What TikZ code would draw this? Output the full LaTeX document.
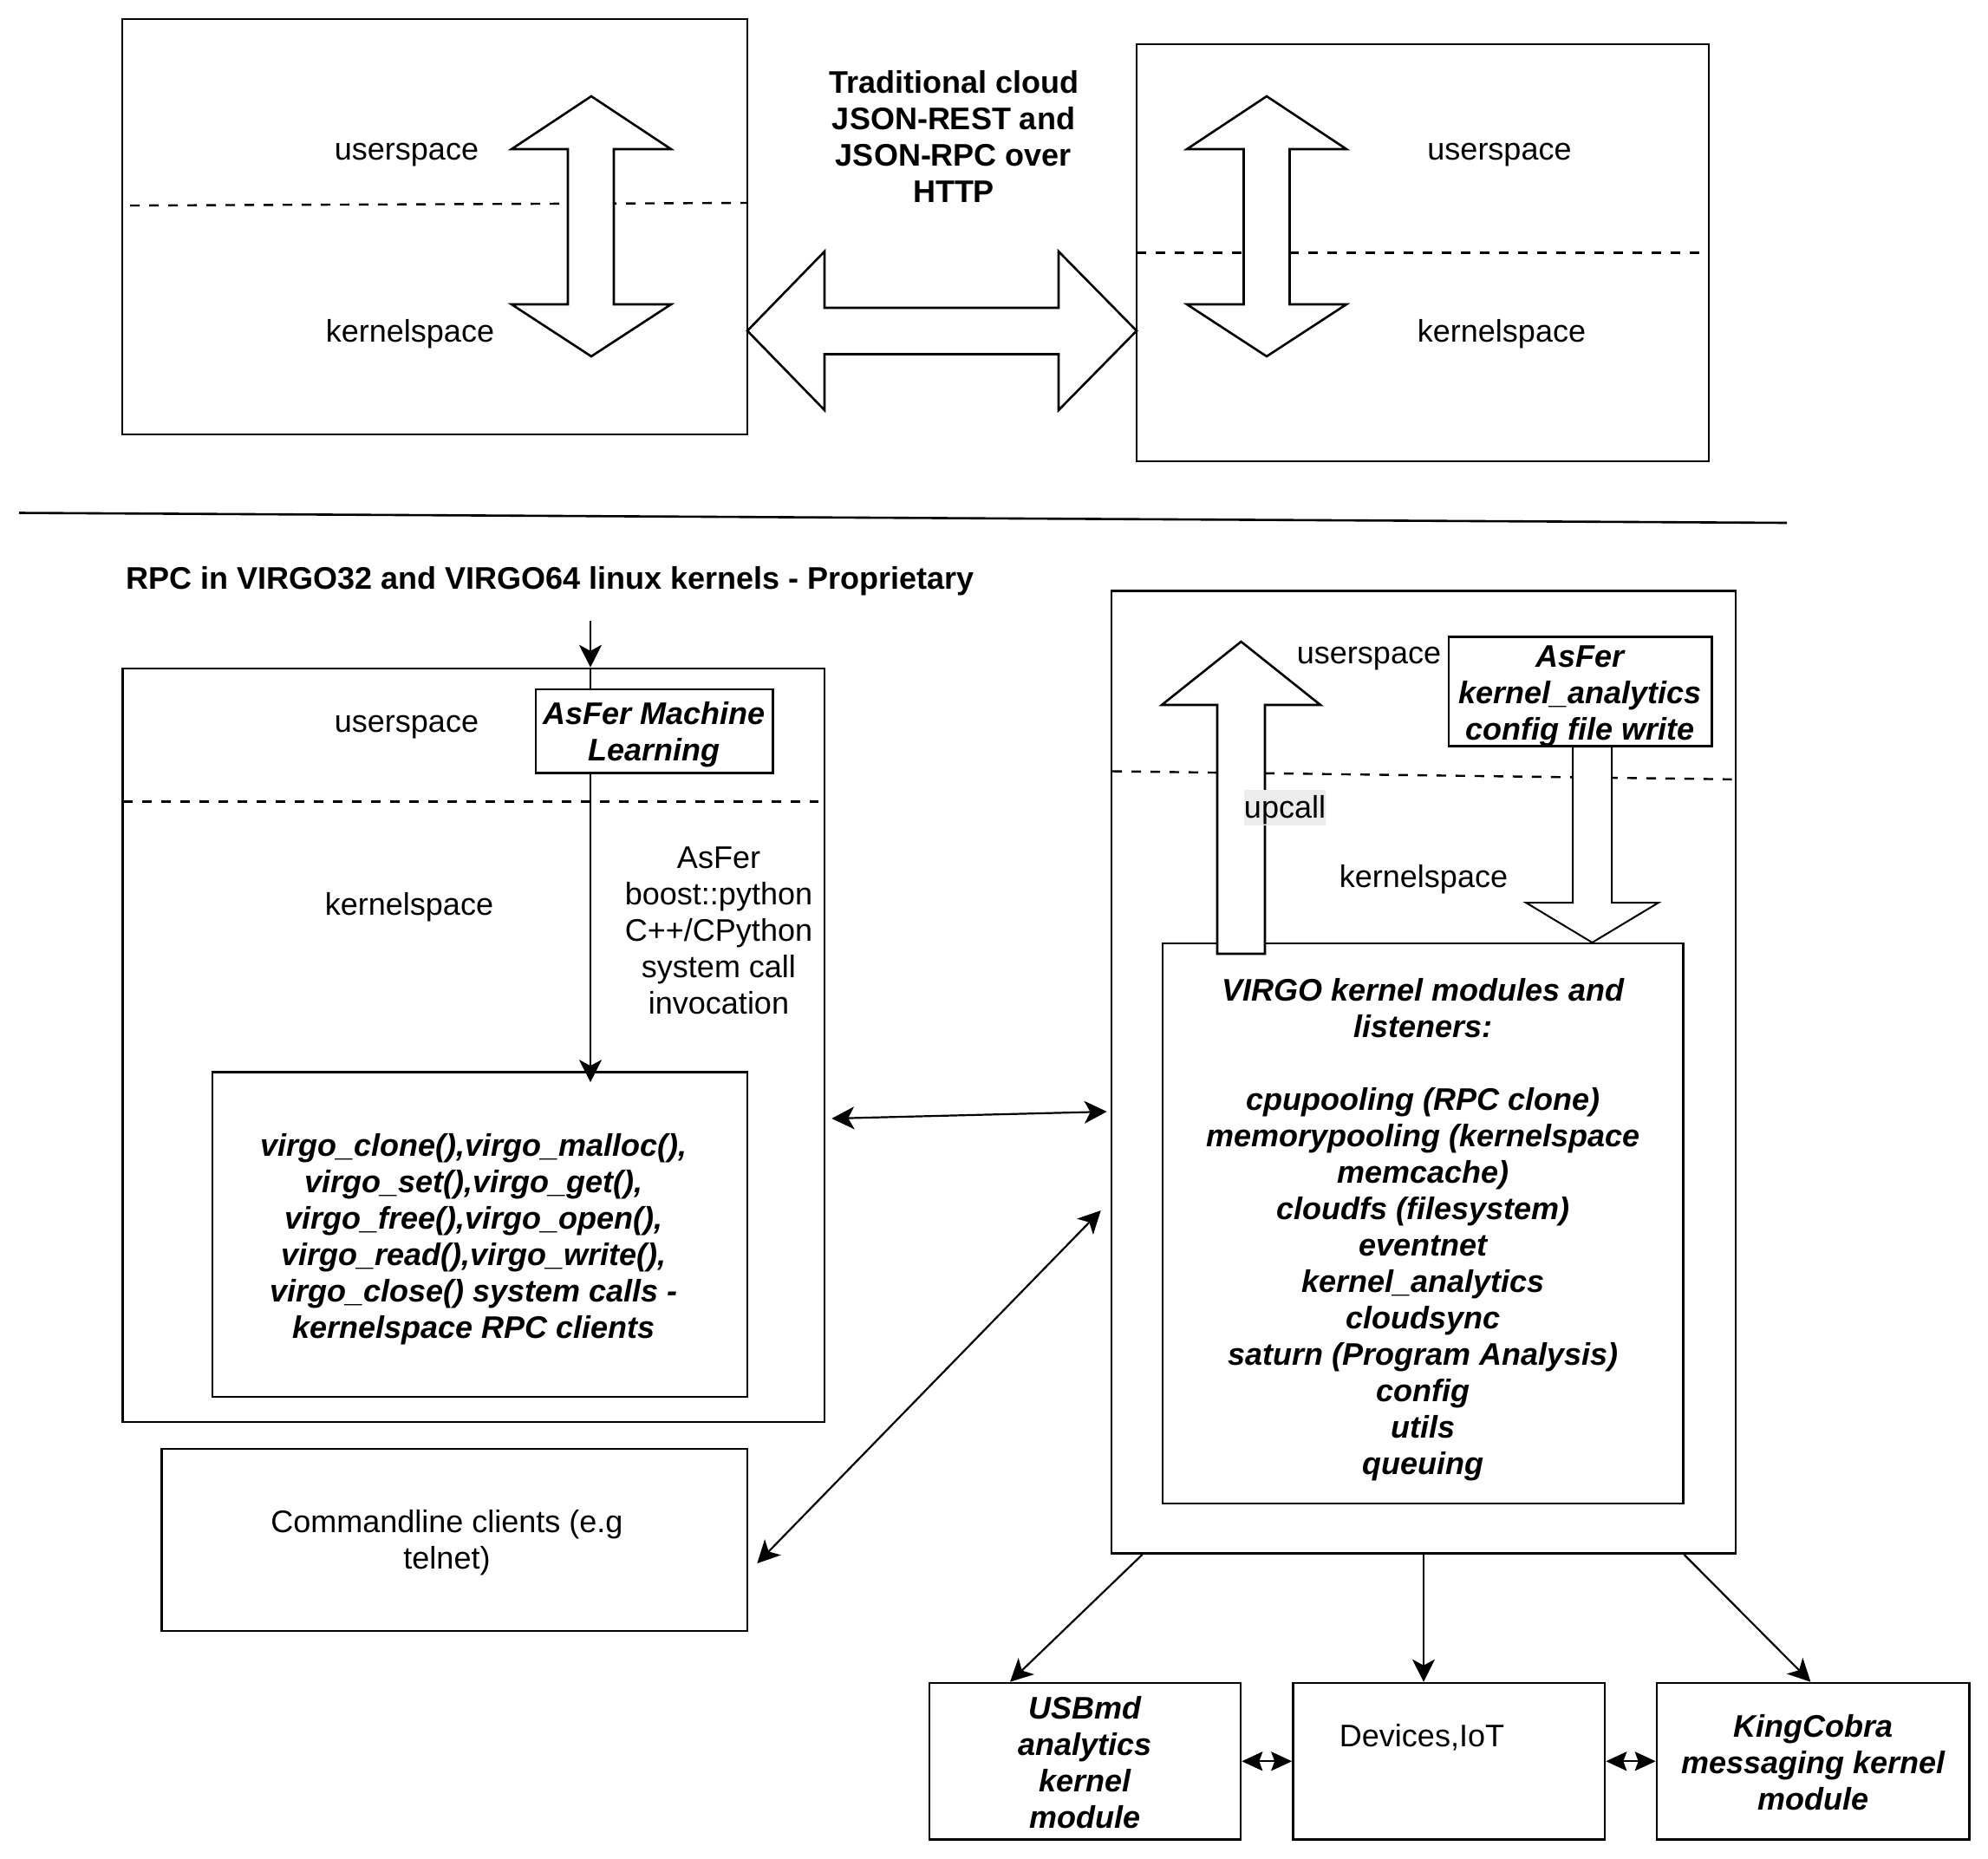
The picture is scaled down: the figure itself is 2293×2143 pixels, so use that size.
\documentclass[tikz,border=0pt]{standalone}
\usepackage{fontspec}
\setmainfont{Liberation Sans}
\usetikzlibrary{arrows.meta,calc}
\newcommand\dfont{\fontsize{18}{21}\selectfont}
\begin{document}
\begin{tikzpicture}[x=0.5pt,y=-0.5pt,
  box/.style={draw, line width=1.3pt, inner sep=0pt},
  lbl/.style={inner sep=0pt, align=center, font=\dfont},
  bi/.style={font=\dfont\bfseries\itshape},
  dline/.style={line width=1.2pt, dash pattern=on 5.5pt off 5.5pt},
  blk/.style={draw, fill=white, line width=1.3pt, line join=miter},
  conn/.style={line width=1.1pt},
  onetip/.style={conn, -{Stealth[length=13pt,width=13pt,inset=3.5pt]}},
  twotip/.style={conn, {Stealth[length=13pt,width=13pt,inset=3.5pt]}-{Stealth[length=13pt,width=13pt,inset=3.5pt]}},
  smalltip/.style={conn, {Stealth[length=12pt,width=11pt,inset=2pt]}-{Stealth[length=12pt,width=11pt,inset=2pt]}}
]
\useasboundingbox (0,0) rectangle (2293,2143);
\fill[white] (0,0) rectangle (2293,2143);

% ---------- top part ----------
\node[box, minimum width=360.5pt, minimum height=239.5pt] (tl) at (501.5,261.5) {};
\node[box, minimum width=330pt, minimum height=240.5pt] (tr) at (1641,291.5) {};
\draw[dline] (150,237) -- (862,234);
\draw[dline] (1311,291.4) -- (1971,291.4);

\node[lbl] (tlu) at (469,179) {userspace};
\node[lbl] (tlk) at (473,385) {kernelspace};
\node[lbl] (tru) at (1729.5,179) {userspace};
\node[lbl] (trk) at (1732,385) {kernelspace};

% vertical double block arrows
\draw[blk] (682,111) -- (774,172) -- (708,172) -- (708,351) -- (774,351) -- (682,411)
  -- (590,351) -- (655,351) -- (655,172) -- (590,172) -- cycle;
\draw[blk] (1461,111) -- (1553,172) -- (1487.5,172) -- (1487.5,351) -- (1553,351) -- (1461,411)
  -- (1369,351) -- (1434.5,351) -- (1434.5,172) -- (1369,172) -- cycle;
% horizontal double block arrow
\draw[blk] (862,381.5) -- (951,290) -- (951,355) -- (1221,355) -- (1221,290) -- (1311,381.5)
  -- (1221,473) -- (1221,408.5) -- (951,408.5) -- (951,473) -- cycle;

\node[lbl, font=\dfont\bfseries] (trad) at (1100,157) {Traditional cloud\\JSON-REST and\\JSON-RPC over\\HTTP};

% separator
\draw[line width=1.3pt] (22,591.5) -- (2061,603);

% ---------- bottom left ----------
\node[lbl, font=\dfont\bfseries] (title) at (634.5,670) {RPC in VIRGO32 and VIRGO64 linux kernels - Proprietary};

\node[box, minimum width=404.75pt, minimum height=434.5pt] (llb) at (546.25,1205.5) {};
\draw[dline] (141.5,924.5) -- (944,924.5);
\node[box, minimum width=136.8pt, minimum height=48.2pt] (ml) at (754.8,843.2) {};
\node[lbl, bi] (mlt) at ([yshift=-2.2pt]ml.center) {AsFer Machine\\Learning};
\node[lbl] (llu) at (469,839) {userspace};
\node[lbl] (llk) at (472,1046) {kernelspace};
\node[lbl] (boost) at (829,1073) {AsFer\\boost::python\\C++/CPython\\system call\\invocation};

\node[box, minimum width=308.5pt, minimum height=187.25pt] (sys) at (553.5,1423.75) {};
\node[lbl, bi] (syst) at ([xshift=-3.3pt,yshift=-2.9pt]sys.center)
  {virgo\_clone(),virgo\_malloc(),\\virgo\_set(),virgo\_get(),\\virgo\_free(),virgo\_open(),\\virgo\_read(),virgo\_write(),\\virgo\_close() system calls -\\kernelspace RPC clients};

\node[box, minimum width=337.7pt, minimum height=105pt] (cmd) at (524.3,1776) {};
\node[lbl] (cmdt) at ([xshift=-4.4pt,yshift=-1.8pt]cmd.center) {Commandline clients (e.g\\telnet)};

\coordinate (in) at (681,716);
\draw[onetip] (in) -- (in |- llb.north);
\draw[conn] (in |- llb.north) -- (in |- ml.north);
\draw[onetip] (in |- ml.south) -- ([yshift=-6.5pt]in |- sys.north);

% ---------- bottom right ----------
\node[box, minimum width=360pt, minimum height=555pt] (vo) at (1642,1236.65) {};
\draw[dline] (1283,889.5) -- (1997.5,898.8);
\node[box, minimum width=151.75pt, minimum height=63pt] (ka) at (1822.75,797.65) {};
\node[lbl, bi] (kat) at ([yshift=-2.5pt]ka.center) {AsFer\\kernel\_analytics\\config file write};
\node[box, minimum width=300.25pt, minimum height=323pt] (vi) at (1641.25,1411) {};
\node[lbl, bi] (vit) at ([yshift=-3.6pt]vi.center)
  {VIRGO kernel modules and\\listeners:\\[21pt]cpupooling (RPC clone)\\memorypooling (kernelspace\\memcache)\\cloudfs (filesystem)\\eventnet\\kernel\_analytics\\cloudsync\\saturn (Program Analysis)\\config\\utils\\queuing};
\node[lbl] (vru) at (1579,760) {userspace};
\node[lbl] (vrk) at (1642,1014) {kernelspace};

% upcall block arrow
\draw[blk] (1431.5,740) -- (1523,813) -- (1459,813) -- (1459,1100) -- (1404,1100) -- (1404,813) -- (1340,813) -- cycle;
\node[lbl, fill=gray!15, minimum width=46.5pt, minimum height=20.5pt, text height=13.1pt, text depth=0.8pt] (up) at (1482,931) {upcall};
% kernel_analytics down block arrow
\draw[blk, line width=1pt] (1814,861) -- (1859,861) -- (1859,1041) -- (1913,1041) -- (1836.5,1087) -- (1760,1041) -- (1814,1041) -- cycle;

% connectors between sides
\draw[twotip] ([xshift=3.5pt,yshift=-42.25pt]llb.east) -- ([xshift=-2pt,yshift=-22.7pt]vo.west);
\draw[twotip] ([xshift=5pt,yshift=-13.5pt]cmd.east) -- ([xshift=-5.5pt,yshift=-79.7pt]vo.west);

% bottom boxes
\node[box, minimum width=179.5pt, minimum height=90.25pt] (usb) at (1251.5,2031.25) {};
\node[lbl, bi] (usbt) at ([yshift=-0.7pt]usb.center) {USBmd\\analytics\\kernel\\module};
\node[box, minimum width=179.75pt, minimum height=90.25pt] (dev) at (1671.25,2031.25) {};
\node[lbl] (devt) at (1640,2003.5) {Devices,IoT};
\node[box, minimum width=180.25pt, minimum height=90.25pt] (kc) at (2091.25,2031.25) {};
\node[lbl, bi] (kct) at ([yshift=-0.7pt]kc.center) {KingCobra\\messaging kernel\\module};

\draw[onetip] ([xshift=-162.25pt]vo.south) -- ([xshift=-43.25pt]usb.north);
\draw[onetip] (vo.south) -- (vo.south |- dev.north);
\draw[onetip] ([xshift=150.25pt]vo.south) -- ([xshift=-1.4pt]kc.north);
\draw[smalltip] (usb.east) -- (dev.west);
\draw[smalltip] (dev.east) -- (kc.west);
\end{tikzpicture}
\end{document}
